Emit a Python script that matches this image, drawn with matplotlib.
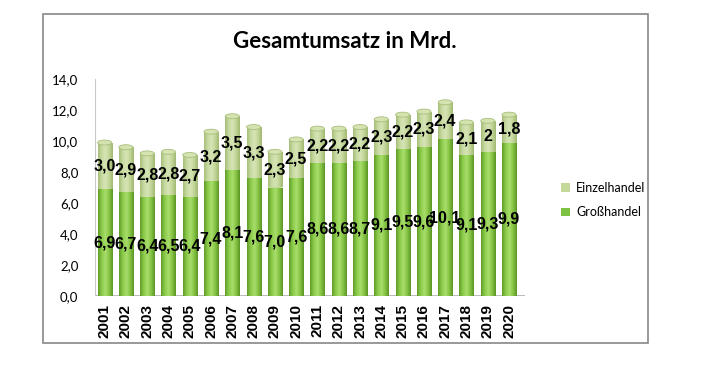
import numpy as np
import matplotlib
matplotlib.use("Agg")
import matplotlib.pyplot as plt
from matplotlib.colors import LinearSegmentedColormap
from matplotlib.patches import Ellipse, Rectangle

YEARS = [str(y) for y in range(2001, 2021)]
GROSS = [6.9, 6.7, 6.4, 6.5, 6.4, 7.4, 8.1, 7.6, 7.0, 7.6,
         8.6, 8.6, 8.7, 9.1, 9.5, 9.6, 10.1, 9.1, 9.3, 9.9]
EINZEL = [3.0, 2.9, 2.8, 2.8, 2.7, 3.2, 3.5, 3.3, 2.3, 2.5,
          2.2, 2.2, 2.2, 2.3, 2.2, 2.3, 2.4, 2.1, 2.0, 1.8]
GROSS_LBL = ["6,9", "6,7", "6,4", "6,5", "6,4", "7,4", "8,1", "7,6", "7,0", "7,6",
             "8,6", "8,6", "8,7", "9,1", "9,5", "9,6", "10,1", "9,1", "9,3", "9,9"]
EINZEL_LBL = ["3,0", "2,9", "2,8", "2,8", "2,7", "3,2", "3,5", "3,3", "2,3", "2,5",
              "2,2", "2,2", "2,2", "2,3", "2,2", "2,3", "2,4", "2,1", "2", "1,8"]
YTICKS = [0, 2, 4, 6, 8, 10, 12, 14]
YTICK_LBL = ["0,0", "2,0", "4,0", "6,0", "8,0", "10,0", "12,0", "14,0"]

GREEN = "#8CCB4A"
LIGHT = "#C4D89A"
cm_gross = LinearSegmentedColormap.from_list("g", ["#5E9C28", "#8CCB4A", "#A8DD6C", "#86C443", "#5A9526"])
cm_einz = LinearSegmentedColormap.from_list("e", ["#A6BE78", "#C8DAA2", "#D6E5B6", "#C2D597", "#A0B872"])

fig = plt.figure(figsize=(7.12, 3.68), dpi=100)
W, H = 712, 368
ax = fig.add_axes([95 / W, (H - 296) / H, 430 / W, (296 - 79) / H])

x = np.arange(len(YEARS))
bw = 0.66
grad = np.linspace(0, 1, 64).reshape(1, -1)
cap_h = 0.32

b1 = ax.bar(x, GROSS, width=bw, color=GREEN, zorder=2)
b2 = ax.bar(x, EINZEL, bottom=GROSS, width=bw, color=LIGHT, zorder=2)
for bars, cmap in [(b1, cm_gross), (b2, cm_einz)]:
    for r in bars:
        x0, y0, w, h = r.get_x(), r.get_y(), r.get_width(), r.get_height()
        im = ax.imshow(grad, cmap=cmap, aspect="auto", extent=[x0, x0 + w, y0, y0 + h], zorder=3)
        im.set_clip_path(r)
for xi, g, e in zip(x, GROSS, EINZEL):
    ax.add_patch(Ellipse((xi, g + e), bw, cap_h, facecolor="#D4E3B0", edgecolor="#A9BF7C", lw=0.6, zorder=4))
    ax.add_patch(Ellipse((xi, 0), bw, cap_h, facecolor="#6AAA30", edgecolor="none", zorder=1.9))

lab_kw = dict(ha="center", va="center", fontsize=11.5, fontweight="bold",
              family="Liberation Sans", color="black", zorder=6)
for xi, g, e, gl, el in zip(x, GROSS, EINZEL, GROSS_LBL, EINZEL_LBL):
    ax.text(xi, g / 2, gl, **lab_kw)
    ax.text(xi, g + e / 2, el, **lab_kw)

# floor of the 3D plot
ax.plot([-0.45, 19.75], [0, 0], color="#B0B0B0", lw=1.2, zorder=1)

ax.set_xlim(-0.45, 19.75)
ax.set_ylim(0, 14)
ax.set_yticks(YTICKS)
ax.set_yticklabels(YTICK_LBL, family="Lato", fontsize=9.5)
ax.set_xticks(x)
ax.set_xticklabels(YEARS, rotation=90, family="Liberation Sans", fontsize=11, fontweight="bold")
ax.tick_params(length=0, pad=6)
ax.tick_params(axis="y", pad=12)
for s in ax.spines.values():
    s.set_visible(False)
ax.axvline(-0.45, color="#C8C8C8", lw=0.8, zorder=1)

fig.text(345 / W, 1 - 42 / H, "Gesamtumsatz in Mrd.", ha="center", va="center",
         fontsize=16, fontweight="bold", family="Lato")

h1 = Rectangle((0, 0), 1, 1, facecolor=LIGHT)
h2 = Rectangle((0, 0), 1, 1, facecolor="#7DC243")
fig.legend([h1, h2], ["Einzelhandel", "Großhandel"], loc="center left",
           bbox_to_anchor=(550 / W, 1 - 200 / H), frameon=False,
           prop={"family": "Lato", "size": 9}, handlelength=0.7, handleheight=0.7,
           handletextpad=0.5, labelspacing=1.0)

fig.add_artist(Rectangle((43 / W, 1 - 343 / H), 605 / W, 329 / H, transform=fig.transFigure,
                         fill=False, edgecolor="#878787", lw=1.2))

fig.savefig("out.png", dpi=100)
